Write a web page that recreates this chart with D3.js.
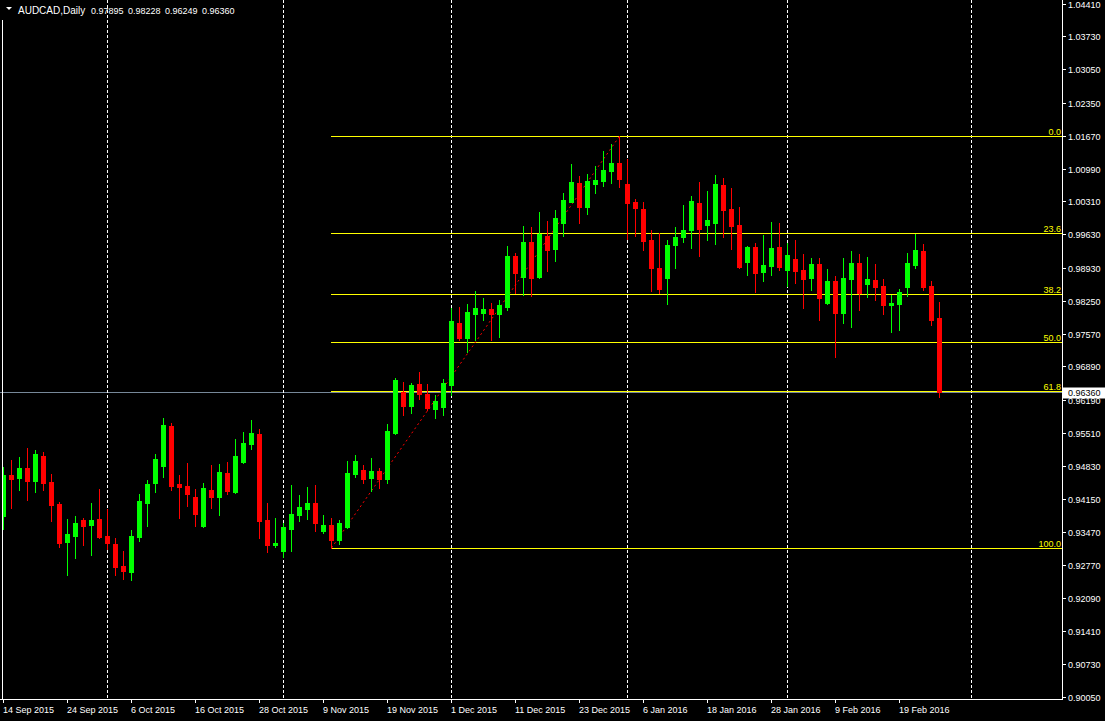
<!DOCTYPE html>
<html><head><meta charset="utf-8">
<script src="https://cdn.jsdelivr.net/npm/d3@7"></script>
<style>html,body{margin:0;padding:0;background:#000;overflow:hidden}</style>
</head><body><svg id="c" width="1105" height="721"></svg>
<script>
const symbolTitle = "AUDCAD,Daily";
const lastOHLC = ["0.97895", "0.98228", "0.96249", "0.96360"];

const open = [
.9380,.9464,.9458,.9479,.9452,.9503,.9449,.9404,.9326,.9338,
.9371,.9361,.9373,.9338,.9321,.9275,.9264,.9336,.9407,.9448,
.9483,.9566,.9445,.9441,.9418,.9359,.9433,.9419,.9468,.9429,
.9492,.9529,.9549,.9371,.9320,.9307,.9353,.9382,.9394,.9406,
.9349,.9360,.9330,.9357,.9467,.9474,.9458,.9472,.9456,.9552,
.9636,.9608,.9653,.9632,.9601,.9606,.9651,.9779,.9748,.9798,
.9800,.9808,.9798,.9813,.9918,.9875,.9947,.9875,.9959,.9933,
.9987,1.0030,1.0069,1.0020,1.0068,1.0074,1.0095,1.0110,1.0067,1.0030,
1.0015,.9951,.9893,.9873,.9941,.9958,.9972,1.0028,.9983,.9987,
1.0065,1.0015,.9982,.9906,.9936,.9885,.9898,.9936,.9889,.9912,
.9889,.9873,.9901,.9821,.9866,.9800,.9871,.9903,.9860,.9868,
.9856,.9817,.9819,.9854,.9900,.9928,.9856,.97895];
const high = [
.9481,.9495,.9501,.9520,.9516,.9512,.9466,.9408,.9373,.9379,
.9375,.9406,.9435,.9394,.9333,.9307,.9350,.9425,.9454,.9508,
.9582,.9572,.9464,.9489,.9435,.9447,.9485,.9487,.9491,.9539,
.9553,.9578,.9559,.9406,.9375,.9365,.9443,.9423,.9439,.9443,
.9381,.9375,.9371,.9493,.9505,.9485,.9499,.9479,.9570,.9665,
.9657,.9655,.9677,.9653,.9630,.9663,.9810,.9812,.9818,.9845,
.9831,.9820,.9827,.9938,.9924,.9980,.9978,1.0009,.9990,1.0013,
1.0048,1.0108,1.0084,1.0088,1.0104,1.0135,1.0150,1.0166,1.0119,1.0036,
1.0030,.9972,.9965,.9951,.9978,1.0023,1.0042,1.0071,1.0052,1.0086,
1.0079,1.0059,1.0019,.9938,.9945,.9961,.9988,.9986,.9945,.9951,
.9922,.9914,.9914,.9891,.9876,.9914,.9928,.9922,.9916,.9901,
.9870,.9838,.9849,.9924,.9963,.9943,.9866,.98228];
const low = [
.9353,.9396,.9434,.9413,.9429,.9434,.9369,.9315,.9257,.9293,
.9320,.9299,.9334,.9311,.9257,.9249,.9247,.9328,.9359,.9429,
.9460,.9434,.9375,.9400,.9359,.9357,.9396,.9382,.9425,.9427,
.9490,.9518,.9334,.9305,.9315,.9295,.9307,.9369,.9373,.9349,
.9344,.9313,.9322,.9355,.9460,.9448,.9431,.9438,.9448,.9550,
.9589,.9593,.9622,.9599,.9583,.9589,.9630,.9744,.9719,.9744,
.9786,.9744,.9751,.9806,.9842,.9838,.9836,.9873,.9887,.9908,
.9960,1.0029,.9987,1.0005,1.0049,1.0063,1.0070,1.0061,.9954,.9960,
.9931,.9846,.9842,.9819,.9894,.9947,.9935,.9918,.9952,.9943,
.9958,.9933,.9894,.9879,.9844,.9867,.9879,.9889,.9856,.9862,
.9811,.9848,.9786,.9819,.9709,.9780,.9771,.9806,.9833,.9827,
.9798,.9761,.9765,.9836,.9894,.9848,.9775,.96249];
const close = [
.9464,.9456,.9479,.9452,.9508,.9448,.9402,.9324,.9342,.9365,
.9359,.9371,.9336,.9324,.9274,.9266,.9338,.9410,.9445,.9497,
.9568,.9442,.9439,.9425,.9384,.9437,.9419,.9470,.9431,.9503,
.9530,.9551,.9369,.9320,.9324,.9356,.9383,.9398,.9406,.9365,
.9360,.9330,.9365,.9468,.9493,.9456,.9472,.9456,.9555,.9661,
.9608,.9650,.9632,.9603,.9617,.9655,.9783,.9748,.9802,.9810,
.9808,.9798,.9816,.9918,.9883,.9947,.9873,.9964,.9931,.9997,
1.0034,1.0071,1.0020,1.0073,1.0075,1.0096,1.0110,1.0078,1.0028,1.0018,
.9949,.9894,.9850,.9941,.9957,.9972,1.0032,.9974,.9992,1.0067,
1.0014,.9981,.9896,.9936,.9883,.9899,.9934,.9896,.9920,.9887,
.9871,.9901,.9831,.9866,.9800,.9872,.9903,.9842,.9870,.9854,
.9817,.9820,.9843,.9903,.9930,.9854,.9786,.96360];

const dateTickIdx = [0,8,16,24,32,40,48,56,64,72,80,88,96,104,112];
const dateTickLabels = ["14 Sep 2015","24 Sep 2015","6 Oct 2015","16 Oct 2015","28 Oct 2015",
  "9 Nov 2015","19 Nov 2015","1 Dec 2015","11 Dec 2015","23 Dec 2015","6 Jan 2016",
  "18 Jan 2016","28 Jan 2016","9 Feb 2016","19 Feb 2016"];
const monthGridIdx = [13,35,56,78,98,121];
const priceTickLabels = ["1.04410","1.03730","1.03050","1.02350","1.01670","1.00990","1.00310",
  "0.99630","0.98930","0.98250","0.97570","0.96890","0.96190","0.95510","0.94830","0.94150",
  "0.93470","0.92770","0.92090","0.91410","0.90730","0.90050"];
const fibLevels = [0, 23.6, 38.2, 50, 61.8, 100];
const fibLabels = ["0.0","23.6","38.2","50.0","61.8","100.0"];
const fibLowIdx = 41, fibHighIdx = 77;
const fibLow = 0.9313, fibHigh = 1.0166;
const bidPrice = 0.96360;
const bidLabel = "0.96360";

const W = 1105, H = 721;
const plotLeft = 3, plotRight = 1062, plotBottom = 699;
const svg = d3.select("#c");
const FONT = "'Liberation Sans', Arial, sans-serif";

const x = d3.scaleLinear().domain([0, 132]).range([3, 3 + 8 * 132]);
const y = d3.scaleLinear().domain([0.90050, 1.04410]).range([696.6, 3.5]);

svg.append("rect").attr("width", W).attr("height", H).attr("fill", "#000");

svg.append("defs").append("clipPath").attr("id", "plot")
  .append("rect").attr("x", plotLeft).attr("y", 0)
  .attr("width", plotRight - plotLeft).attr("height", plotBottom);

// bid line (full width, behind everything)
svg.append("line")
  .attr("x1", 0).attr("x2", plotRight)
  .attr("y1", Math.round(y(bidPrice)) + 0.5).attr("y2", Math.round(y(bidPrice)) + 0.5)
  .attr("stroke", "#778899").attr("stroke-width", 1).attr("shape-rendering", "crispEdges");

const plot = svg.append("g").attr("clip-path", "url(#plot)")
  .attr("shape-rendering", "crispEdges");

// month grid lines
plot.selectAll("line.grid").data(monthGridIdx).join("line")
  .attr("x1", d => x(d) + 0.5).attr("x2", d => x(d) + 0.5)
  .attr("y1", 0).attr("y2", plotBottom)
  .attr("stroke", "#fff").attr("stroke-width", 1).attr("stroke-dasharray", "3,2");

// fibonacci levels
const fibRange = fibHigh - fibLow;
const fibPrices = fibLevels.map(l => fibHigh - l / 100 * fibRange);
plot.selectAll("line.fib").data(fibPrices).join("line")
  .attr("x1", x(fibLowIdx)).attr("x2", plotRight)
  .attr("y1", d => Math.round(y(d)) + 0.5).attr("y2", d => Math.round(y(d)) + 0.5)
  .attr("stroke", "#ffff00").attr("stroke-width", 1);

// fib trend line
plot.append("line")
  .attr("x1", x(fibLowIdx) + 0.5).attr("y1", y(fibLow))
  .attr("x2", x(fibHighIdx) + 0.5).attr("y2", y(fibHigh))
  .attr("stroke", "#ff0000").attr("stroke-width", 1).attr("stroke-dasharray", "2,3")
  .attr("shape-rendering", "auto");

// candles
const idx = d3.range(open.length);
const up = i => close[i] >= open[i];
const col = i => up(i) ? "#00ff00" : "#ff0000";
plot.selectAll("line.wick").data(idx).join("line")
  .attr("x1", i => x(i) + 0.5).attr("x2", i => x(i) + 0.5)
  .attr("y1", i => Math.round(y(high[i]))).attr("y2", i => Math.round(y(low[i])) + 1)
  .attr("stroke", col).attr("stroke-width", 1);
plot.selectAll("rect.body").data(idx).join("rect")
  .attr("x", i => x(i) - 2).attr("width", 5)
  .attr("y", i => Math.round(y(Math.max(open[i], close[i]))))
  .attr("height", i => Math.max(1, Math.round(y(Math.min(open[i], close[i]))) - Math.round(y(Math.max(open[i], close[i]))) + 1))
  .attr("fill", col);

// fib labels
svg.selectAll("text.fib").data(fibPrices).join("text")
  .attr("x", plotRight - 1).attr("y", d => Math.round(y(d)) - 1.5)
  .attr("text-anchor", "end").attr("fill", "#ffff00")
  .attr("font-family", FONT).attr("font-size", 9)
  .text((d, i) => fibLabels[i]);

// axes lines
const ax = svg.append("g").attr("shape-rendering", "crispEdges");
ax.append("line").attr("x1", plotRight + 0.5).attr("x2", plotRight + 0.5)
  .attr("y1", 0).attr("y2", plotBottom + 1).attr("stroke", "#fff");
ax.append("line").attr("x1", 0).attr("x2", plotRight + 1)
  .attr("y1", plotBottom + 0.5).attr("y2", plotBottom + 0.5).attr("stroke", "#fff");
ax.append("line").attr("x1", 2.5).attr("x2", 2.5)
  .attr("y1", 20).attr("y2", plotBottom).attr("stroke", "#fff");

// price axis
const pt = svg.append("g");
pt.selectAll("line").data(priceTickLabels).join("line")
  .attr("x1", plotRight).attr("x2", plotRight + 4)
  .attr("y1", d => Math.round(y(+d)) + 0.5).attr("y2", d => Math.round(y(+d)) + 0.5)
  .attr("stroke", "#fff").attr("shape-rendering", "crispEdges");
pt.selectAll("text").data(priceTickLabels).join("text")
  .attr("x", plotRight + 6).attr("y", d => Math.round(y(+d)) + 0.5)
  .attr("dy", "0.35em").attr("fill", "#fff")
  .attr("font-family", FONT).attr("font-size", 9).text(d => d);

// bid price box
const by = Math.round(y(bidPrice));
svg.append("rect").attr("x", plotRight + 1).attr("y", by - 4.5)
  .attr("width", W - plotRight - 1).attr("height", 11).attr("fill", "#fff");
svg.append("text").attr("x", plotRight + 6).attr("y", by + 0.5).attr("dy", "0.35em")
  .attr("fill", "#000").attr("font-family", FONT).attr("font-size", 9).text(bidLabel);

// date axis
const dt = svg.append("g");
dt.selectAll("line").data(dateTickIdx).join("line")
  .attr("x1", d => x(d) + 0.5).attr("x2", d => x(d) + 0.5)
  .attr("y1", plotBottom).attr("y2", plotBottom + 4)
  .attr("stroke", "#fff").attr("shape-rendering", "crispEdges");
dt.selectAll("text").data(dateTickIdx).join("text")
  .attr("x", d => x(d)).attr("y", 713)
  .attr("fill", "#fff").attr("font-family", FONT).attr("font-size", 9)
  .text((d, i) => dateTickLabels[i]);

// title
svg.append("path").attr("d", "M6,7 L12,7 L9,10 Z").attr("fill", "#fff");
const t = svg.append("text").attr("y", 14).attr("fill", "#fff").attr("font-family", FONT);
t.append("tspan").attr("x", 18).attr("font-size", 10).text(symbolTitle);
const numX = [91, 128, 165, 202];
lastOHLC.forEach((s, i) => t.append("tspan").attr("x", numX[i]).attr("font-size", 9).text(s));
</script>
</body></html>
